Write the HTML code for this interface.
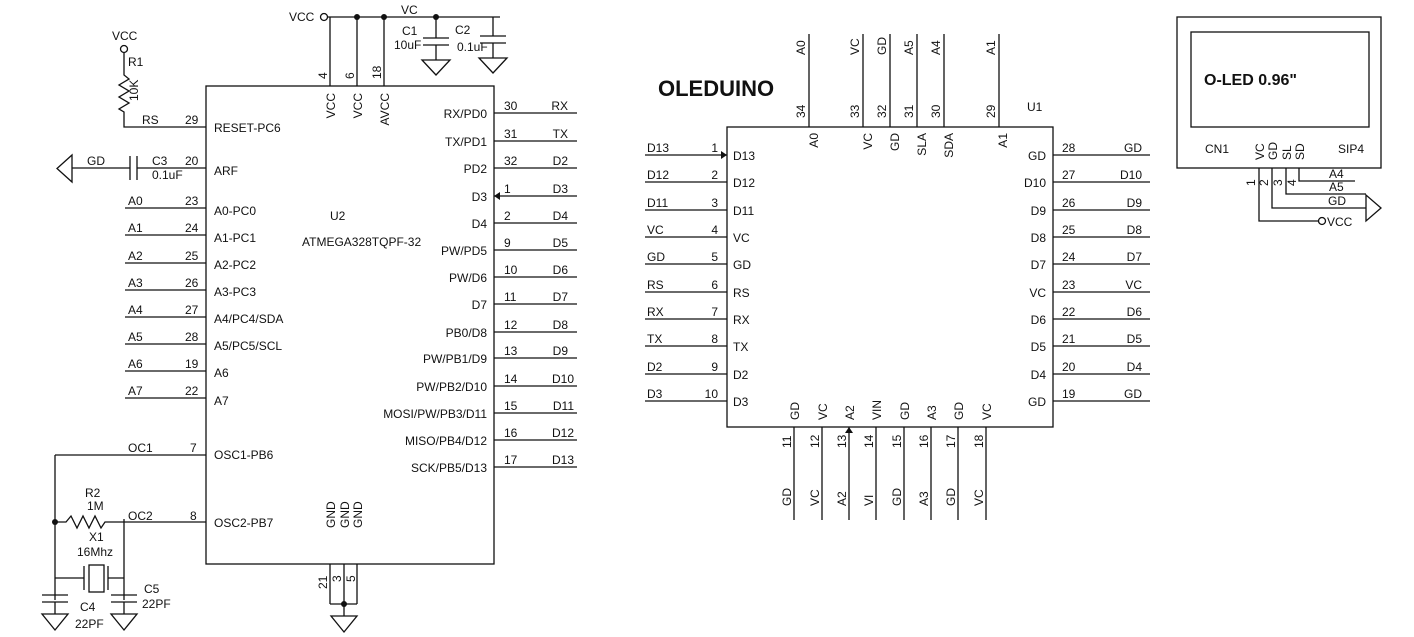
<!DOCTYPE html>
<html><head><meta charset="utf-8"><style>
html,body{margin:0;padding:0;background:#fff;}
svg{display:block}
text{font-family:"Liberation Sans",Arial,sans-serif;font-size:12px;fill:#111}
.l{stroke:#111;stroke-width:1.3;fill:none}
</style></head><body>
<svg width="1414" height="637" viewBox="0 0 1414 637" xmlns="http://www.w3.org/2000/svg">
<g class="l">
<rect x="206" y="86" width="288" height="478"/>
<circle cx="324" cy="17" r="3.5" fill="#fff"/>
<path d="M328 17H500M330 17V86M357 17V86M384 17V86"/>
<path d="M436 17V38M423 38H449M423 45H449M436 45V60M422 60H450L436 75Z"/>
<path d="M493 17V36M480 36H506M480 43H506M493 43V58M479 58H507L493 73Z"/>
<circle cx="124" cy="49" r="3.5" fill="#fff"/>
<path d="M124 53V75L129 79L119 85L129 91L119 97L129 103L119 109L124 112V127H206"/>
<path d="M72 168H130M130 156V180M137 156V180M137 168H206M72 155V182L57 168.5Z"/>
<path d="M125 208H206M125 235H206M125 263H206M125 290H206M125 317H206M125 344H206M125 371H206M125 398H206"/>
<path d="M55 455H206M55 455V600M55 522H66L71 516L77 528L83 516L89 528L95 516L101 528L105 522H124H206M124 519V600M55 578H84M84 566V590M108 566V590M108 578H124"/>
<rect x="89" y="565" width="15" height="27"/>
<path d="M42 595H68M42 602H68M55 602V614M42 614H68L55 630Z"/>
<path d="M111 595H137M111 602H137M124 602V614M111 614H137L124 630Z"/>
<path d="M494 113H577M494 141H577M494 168H577M494 196H577M494 223H577M494 250H577M494 277H577M494 304H577M494 332H577M494 358H577M494 386H577M494 413H577M494 440H577M494 467H577"/>
<path d="M330 564V604M344 564V604M357 564V604M330 604H357M344 604V616M331 616H357L344 632Z"/>
<rect x="727" y="127" width="326" height="300"/>
<path d="M809 34V127M863 34V127M890 34V127M917 34V127M944 34V127M999 34V127"/>
<path d="M794 427V520M822 427V520M849 427V520M876 427V520M904 427V520M931 427V520M958 427V520M986 427V520"/>
<path d="M645 155H727M645 182H727M645 210H727M645 237H727M645 264H727M645 292H727M645 319H727M645 346H727M645 374H727M645 401H727"/>
<path d="M1053 155H1150M1053 182H1150M1053 210H1150M1053 237H1150M1053 264H1150M1053 292H1150M1053 319H1150M1053 346H1150M1053 374H1150M1053 401H1150"/>
<rect x="1177" y="17" width="204" height="151"/>
<rect x="1191" y="32" width="178" height="95"/>
<path d="M1299 168V181H1355M1286 168V194H1366M1272 168V208H1366M1259 168V221H1319M1366 195V221L1381 208Z"/>
<circle cx="1322" cy="221" r="3.5" fill="#fff"/>
</g>
<g fill="#111">
<circle cx="357" cy="17" r="3"/><circle cx="384" cy="17" r="3"/><circle cx="436" cy="17" r="3"/>
<circle cx="55" cy="522" r="3"/><circle cx="344" cy="604" r="3"/>
<path d="M494 196L500 192V200Z"/><path d="M727 155L721 151V159Z"/><path d="M849 427L845 433H853Z"/>
</g>
<text x="289" y="21">VCC</text><text x="401" y="14">VC</text>
<text x="402" y="35">C1</text><text x="394" y="49">10uF</text>
<text x="455" y="34">C2</text><text x="457" y="51">0.1uF</text>
<text x="112" y="40">VCC</text><text x="128" y="66">R1</text>
<text transform="translate(138,101) rotate(-90)">10K</text>
<text x="142" y="124">RS</text><text x="185" y="124">29</text>
<text x="87" y="165">GD</text><text x="152" y="165">C3</text><text x="152" y="179">0.1uF</text><text x="185" y="165">20</text>
<text x="128" y="205">A0</text><text x="185" y="205">23</text>
<text x="128" y="232">A1</text><text x="185" y="232">24</text>
<text x="128" y="260">A2</text><text x="185" y="260">25</text>
<text x="128" y="287">A3</text><text x="185" y="287">26</text>
<text x="128" y="314">A4</text><text x="185" y="314">27</text>
<text x="128" y="341">A5</text><text x="185" y="341">28</text>
<text x="128" y="368">A6</text><text x="185" y="368">19</text>
<text x="128" y="395">A7</text><text x="185" y="395">22</text>
<text x="128" y="452">OC1</text><text x="190" y="452">7</text>
<text x="128" y="520">OC2</text><text x="190" y="520">8</text>
<text x="85" y="497">R2</text><text x="87" y="510">1M</text>
<text x="89" y="541">X1</text><text x="77" y="556">16Mhz</text>
<text x="80" y="611">C4</text><text x="75" y="628">22PF</text>
<text x="144" y="593">C5</text><text x="142" y="608">22PF</text>
<text x="214" y="132">RESET-PC6</text><text x="214" y="175">ARF</text>
<text x="214" y="215">A0-PC0</text><text x="214" y="242">A1-PC1</text><text x="214" y="269">A2-PC2</text><text x="214" y="296">A3-PC3</text>
<text x="214" y="323">A4/PC4/SDA</text><text x="214" y="350">A5/PC5/SCL</text><text x="214" y="377">A6</text><text x="214" y="405">A7</text>
<text x="214" y="459">OSC1-PB6</text><text x="214" y="527">OSC2-PB7</text>
<text x="330" y="220">U2</text><text x="302" y="246">ATMEGA328TQPF-32</text>
<g text-anchor="end">
<text x="487" y="118">RX/PD0</text><text x="487" y="146">TX/PD1</text><text x="487" y="173">PD2</text><text x="487" y="201">D3</text>
<text x="487" y="228">D4</text><text x="487" y="255">PW/PD5</text><text x="487" y="282">PW/D6</text><text x="487" y="309">D7</text>
<text x="487" y="337">PB0/D8</text><text x="487" y="363">PW/PB1/D9</text><text x="487" y="391">PW/PB2/D10</text>
<text x="487" y="418">MOSI/PW/PB3/D11</text><text x="487" y="445">MISO/PB4/D12</text><text x="487" y="472">SCK/PB5/D13</text>
<text x="568" y="110">RX</text><text x="568" y="138">TX</text><text x="568" y="165">D2</text><text x="568" y="193">D3</text>
<text x="568" y="220">D4</text><text x="568" y="247">D5</text><text x="568" y="274">D6</text><text x="568" y="301">D7</text>
<text x="568" y="329">D8</text><text x="568" y="355">D9</text><text x="574" y="383">D10</text><text x="574" y="410">D11</text>
<text x="574" y="437">D12</text><text x="574" y="464">D13</text>
</g>
<text x="504" y="110">30</text><text x="504" y="138">31</text><text x="504" y="165">32</text><text x="504" y="193">1</text>
<text x="504" y="220">2</text><text x="504" y="247">9</text><text x="504" y="274">10</text><text x="504" y="301">11</text>
<text x="504" y="329">12</text><text x="504" y="355">13</text><text x="504" y="383">14</text><text x="504" y="410">15</text>
<text x="504" y="437">16</text><text x="504" y="464">17</text>
<text transform="translate(327,79) rotate(-90)">4</text>
<text transform="translate(354,79) rotate(-90)">6</text>
<text transform="translate(381,79) rotate(-90)">18</text>
<g text-anchor="end">
<text transform="translate(335,93) rotate(-90)">VCC</text>
<text transform="translate(362,93) rotate(-90)">VCC</text>
<text transform="translate(389,93) rotate(-90)">AVCC</text>
<text transform="translate(335,528) rotate(-90)" text-anchor="start">GND</text>
<text transform="translate(349,528) rotate(-90)" text-anchor="start">GND</text>
<text transform="translate(362,528) rotate(-90)" text-anchor="start">GND</text>
</g>
<text transform="translate(327,589) rotate(-90)">21</text>
<text transform="translate(341,582) rotate(-90)">3</text>
<text transform="translate(355,582) rotate(-90)">5</text>
<text x="658" y="96" style="font-size:22px;font-weight:bold">OLEDUINO</text>
<text x="1027" y="111">U1</text>
<g>
<text transform="translate(805,55) rotate(-90)">A0</text>
<text transform="translate(859,55) rotate(-90)">VC</text>
<text transform="translate(886,55) rotate(-90)">GD</text>
<text transform="translate(913,55) rotate(-90)">A5</text>
<text transform="translate(940,55) rotate(-90)">A4</text>
<text transform="translate(995,55) rotate(-90)">A1</text>
<text transform="translate(805,118) rotate(-90)">34</text>
<text transform="translate(859,118) rotate(-90)">33</text>
<text transform="translate(886,118) rotate(-90)">32</text>
<text transform="translate(913,118) rotate(-90)">31</text>
<text transform="translate(940,118) rotate(-90)">30</text>
<text transform="translate(995,118) rotate(-90)">29</text>
</g>
<g text-anchor="end">
<text transform="translate(818,133) rotate(-90)">A0</text>
<text transform="translate(872,133) rotate(-90)">VC</text>
<text transform="translate(899,133) rotate(-90)">GD</text>
<text transform="translate(926,133) rotate(-90)">SLA</text>
<text transform="translate(953,133) rotate(-90)">SDA</text>
<text transform="translate(1007,133) rotate(-90)">A1</text>
</g>
<g>
<text transform="translate(799,420) rotate(-90)">GD</text>
<text transform="translate(827,420) rotate(-90)">VC</text>
<text transform="translate(854,420) rotate(-90)">A2</text>
<text transform="translate(881,420) rotate(-90)">VIN</text>
<text transform="translate(909,420) rotate(-90)">GD</text>
<text transform="translate(936,420) rotate(-90)">A3</text>
<text transform="translate(963,420) rotate(-90)">GD</text>
<text transform="translate(991,420) rotate(-90)">VC</text>
<text transform="translate(791,448) rotate(-90)">11</text>
<text transform="translate(819,448) rotate(-90)">12</text>
<text transform="translate(846,448) rotate(-90)">13</text>
<text transform="translate(873,448) rotate(-90)">14</text>
<text transform="translate(901,448) rotate(-90)">15</text>
<text transform="translate(928,448) rotate(-90)">16</text>
<text transform="translate(955,448) rotate(-90)">17</text>
<text transform="translate(983,448) rotate(-90)">18</text>
<text transform="translate(791,506) rotate(-90)">GD</text>
<text transform="translate(819,506) rotate(-90)">VC</text>
<text transform="translate(846,506) rotate(-90)">A2</text>
<text transform="translate(873,506) rotate(-90)">VI</text>
<text transform="translate(901,506) rotate(-90)">GD</text>
<text transform="translate(928,506) rotate(-90)">A3</text>
<text transform="translate(955,506) rotate(-90)">GD</text>
<text transform="translate(983,506) rotate(-90)">VC</text>
</g>
<text x="647" y="152">D13</text><text x="647" y="179">D12</text><text x="647" y="207">D11</text><text x="647" y="234">VC</text><text x="647" y="261">GD</text>
<text x="647" y="289">RS</text><text x="647" y="316">RX</text><text x="647" y="343">TX</text><text x="647" y="371">D2</text><text x="647" y="398">D3</text>
<g text-anchor="end">
<text x="718" y="152">1</text><text x="718" y="179">2</text><text x="718" y="207">3</text><text x="718" y="234">4</text><text x="718" y="261">5</text>
<text x="718" y="289">6</text><text x="718" y="316">7</text><text x="718" y="343">8</text><text x="718" y="371">9</text><text x="718" y="398">10</text>
<text x="1046" y="160">GD</text><text x="1046" y="187">D10</text><text x="1046" y="215">D9</text><text x="1046" y="242">D8</text><text x="1046" y="269">D7</text>
<text x="1046" y="297">VC</text><text x="1046" y="324">D6</text><text x="1046" y="351">D5</text><text x="1046" y="379">D4</text><text x="1046" y="406">GD</text>
<text x="1142" y="152">GD</text><text x="1142" y="179">D10</text><text x="1142" y="207">D9</text><text x="1142" y="234">D8</text><text x="1142" y="261">D7</text>
<text x="1142" y="289">VC</text><text x="1142" y="316">D6</text><text x="1142" y="343">D5</text><text x="1142" y="371">D4</text><text x="1142" y="398">GD</text>
</g>
<text x="733" y="160">D13</text><text x="733" y="187">D12</text><text x="733" y="215">D11</text><text x="733" y="242">VC</text><text x="733" y="269">GD</text>
<text x="733" y="297">RS</text><text x="733" y="324">RX</text><text x="733" y="351">TX</text><text x="733" y="379">D2</text><text x="733" y="406">D3</text>
<text x="1062" y="152">28</text><text x="1062" y="179">27</text><text x="1062" y="207">26</text><text x="1062" y="234">25</text><text x="1062" y="261">24</text>
<text x="1062" y="289">23</text><text x="1062" y="316">22</text><text x="1062" y="343">21</text><text x="1062" y="371">20</text><text x="1062" y="398">19</text>
<text x="1204" y="85" style="font-size:16px;font-weight:bold">O-LED 0.96"</text>
<text x="1205" y="153">CN1</text><text x="1338" y="153">SIP4</text>
<text transform="translate(1264,160) rotate(-90)">VC</text>
<text transform="translate(1277,160) rotate(-90)">GD</text>
<text transform="translate(1291,160) rotate(-90)">SL</text>
<text transform="translate(1304,160) rotate(-90)">SD</text>
<text transform="translate(1255,186) rotate(-90)">1</text>
<text transform="translate(1268,186) rotate(-90)">2</text>
<text transform="translate(1282,186) rotate(-90)">3</text>
<text transform="translate(1296,186) rotate(-90)">4</text>
<text x="1329" y="178">A4</text><text x="1329" y="191">A5</text><text x="1328" y="205">GD</text><text x="1327" y="226">VCC</text>
</svg>
</body></html>
